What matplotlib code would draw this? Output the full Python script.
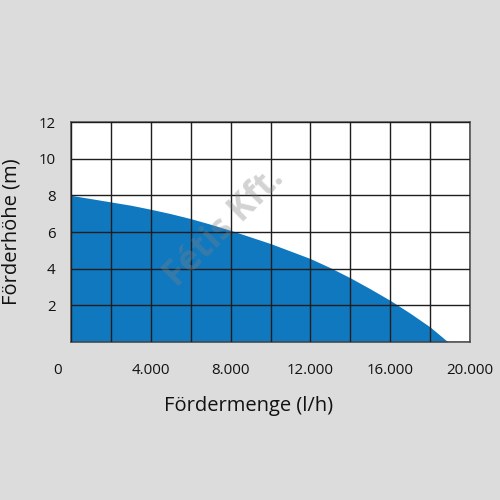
import matplotlib
matplotlib.use("Agg")
import matplotlib.pyplot as plt
import matplotlib.transforms as mtransforms

# Pump curve
flow_lh = [0, 1000, 2000, 3000, 4000, 5000, 6000, 7000, 8000, 9000, 10000,
           11000, 12000, 13000, 14000, 15000, 16000, 17000, 18000, 18900]
head_m = [8.0, 7.82, 7.64, 7.46, 7.24, 7.0, 6.73, 6.42, 6.09, 5.73, 5.37,
          4.96, 4.55, 4.05, 3.5, 2.9, 2.27, 1.57, 0.82, 0.0]

x_ticks = [0, 4000, 8000, 12000, 16000, 20000]
x_labels = ["0", "4.000", "8.000", "12.000", "16.000", "20.000"]
y_ticks = [2, 4, 6, 8, 10, 12]
y_labels = ["2", "4", "6", "8", "10", "12"]

bg = "#dcdcdc"
blue = "#0f78bf"

plt.rcParams["font.family"] = ["Open Sans", "DejaVu Sans"]

fig = plt.figure(figsize=(5, 5), dpi=100, facecolor=bg)
ax = fig.add_axes([0.142, 0.316, 0.798, 0.44])
ax.set_facecolor("white")

ax.fill_between(flow_lh, head_m, 0, color=blue, linewidth=0, zorder=1)

ax.set_xlim(0, 20000)
ax.set_ylim(0, 12)

ax.set_xticks(x_ticks)
ax.set_xticklabels(x_labels)
ax.set_yticks(y_ticks)
ax.set_yticklabels(y_labels)
ax.set_xticks(range(0, 20001, 2000), minor=True)
ax.set_yticks(range(0, 13, 2), minor=True)

# grid every cell, on top of the fill
ax.grid(which="both", color="#1e1e1e", linewidth=1.0)
ax.set_axisbelow(False)

ax.tick_params(which="both", length=0, labelsize=10.8, colors="#111111")
ax.tick_params(axis="x", pad=15)
ax.tick_params(axis="y", pad=11)

# the "0" sits left of the axis corner
zero = ax.get_xticklabels()[0]
zero.set_transform(zero.get_transform() + mtransforms.ScaledTranslation(-13 / 100, 0, fig.dpi_scale_trans))

for s in ax.spines.values():
    s.set_color("#555555")
    s.set_linewidth(1.2)

ax.set_xlabel("Fördermenge (l/h)", fontsize=14.5, color="#111111")
ax.xaxis.set_label_coords(0.444, -0.245)
ax.set_ylabel("Förderhöhe (m)", fontsize=14.5, labelpad=12, color="#111111")

# watermark
ax.text(0.385, 0.52, "Fétis Kft.", transform=ax.transAxes, rotation=45,
        ha="center", va="center", fontsize=25, fontweight="bold",
        color="#808080", alpha=0.35, zorder=3)

fig.savefig("out.png", dpi=100, facecolor=bg)
